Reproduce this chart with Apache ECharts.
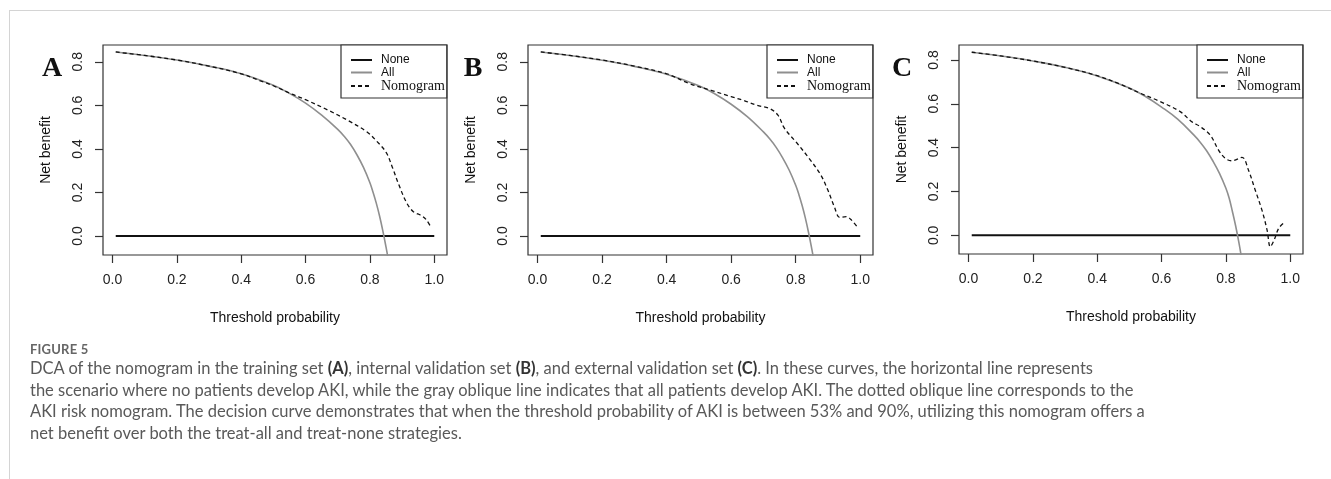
<!DOCTYPE html>
<html>
<head>
<meta charset="utf-8">
<script src="https://cdn.jsdelivr.net/npm/echarts@6/dist/echarts.min.js"></script>
<style>
  body { margin: 0; background: #fff; }
  #wrap { position: relative; width: 1331px; height: 479px; overflow: hidden; }
  #frame { position: absolute; left: 9px; top: 10px; right: 0; bottom: 0; border-top: 1px solid #d4d4d4; border-left: 1px solid #d4d4d4; }
  #chart { position: absolute; left: 0; top: 0; width: 1331px; height: 479px; }
  #caption { position: absolute; left: 30px; top: 340px; width: 1200px; font-family: Lato, "Open Sans", sans-serif; color: #595959; }
  #caption .fig { font-size: 13px; font-weight: bold; letter-spacing: 0.2px; line-height: 18px; color: #666; }
  #caption .txt { font-size: 16.5px; line-height: 21.5px; }
  #caption b { color: #333; }
</style>
</head>
<body>
<div id="wrap">
  <div id="frame"></div>
  <div id="chart"></div>
  <div id="caption">
    <div class="fig">FIGURE 5</div>
    <div class="txt">DCA of the nomogram in the training set <b>(A)</b>, internal validation set <b>(B)</b>, and external validation set <b>(C)</b>. In these curves, the horizontal line represents<br>the scenario where no patients develop AKI, while the gray oblique line indicates that all patients develop AKI. The dotted oblique line corresponds to the<br>AKI risk nomogram. The decision curve demonstrates that when the threshold probability of AKI is between 53% and 90%, utilizing this nomogram offers a<br>net benefit over both the treat-all and treat-none strategies.</div>
  </div>
</div>
<script>
// tick labels
const xTicks = [0, 0.2, 0.4, 0.6, 0.8, 1.0]
const yTicks = [0, 0.2, 0.4, 0.6, 0.8]
const panelLetters = ['A', 'B', 'C']

// treat none
const noneX = [0.01, 1.0]
const noneY = [0, 0]

// treat all, per panel
const allAX = [0.01, 0.1, 0.2, 0.3, 0.4, 0.5, 0.55, 0.6, 0.65, 0.7, 0.72, 0.74, 0.76, 0.78, 0.8, 0.81, 0.82, 0.83, 0.84, 0.85, 0.86]
const allAY = [0.845, 0.829, 0.808, 0.780, 0.745, 0.692, 0.655, 0.610, 0.555, 0.490, 0.458, 0.420, 0.372, 0.315, 0.245, 0.200, 0.150, 0.092, 0.025, -0.05, -0.13]
const allBX = [0.01, 0.1, 0.2, 0.3, 0.4, 0.5, 0.55, 0.6, 0.65, 0.7, 0.72, 0.74, 0.76, 0.78, 0.8, 0.81, 0.82, 0.83, 0.84, 0.85, 0.86]
const allBY = [0.845, 0.829, 0.807, 0.779, 0.743, 0.690, 0.652, 0.605, 0.548, 0.478, 0.445, 0.406, 0.358, 0.302, 0.233, 0.190, 0.140, 0.082, 0.015, -0.06, -0.14]
const allCX = [0.01, 0.1, 0.2, 0.3, 0.4, 0.5, 0.55, 0.6, 0.65, 0.7, 0.72, 0.74, 0.76, 0.78, 0.8, 0.81, 0.82, 0.83, 0.84, 0.85]
const allCY = [0.835, 0.818, 0.795, 0.766, 0.727, 0.672, 0.633, 0.585, 0.530, 0.458, 0.425, 0.386, 0.338, 0.283, 0.215, 0.170, 0.110, 0.045, -0.03, -0.115]

// nomogram, per panel
const nomoAX = [0.01, 0.1, 0.2, 0.3, 0.4, 0.46, 0.5, 0.56, 0.6, 0.67, 0.73, 0.79, 0.82, 0.85, 0.87, 0.89, 0.915, 0.935, 0.96, 0.975, 0.99]
const nomoAY = [0.845, 0.829, 0.808, 0.780, 0.745, 0.712, 0.690, 0.650, 0.626, 0.578, 0.532, 0.479, 0.437, 0.385, 0.315, 0.235, 0.150, 0.112, 0.094, 0.075, 0.040]
const nomoBX = [0.01, 0.1, 0.2, 0.3, 0.4, 0.47, 0.54, 0.6, 0.64, 0.68, 0.72, 0.745, 0.765, 0.805, 0.845, 0.878, 0.9, 0.92, 0.936, 0.957, 0.973, 0.994]
const nomoBY = [0.845, 0.829, 0.808, 0.780, 0.745, 0.700, 0.668, 0.640, 0.622, 0.600, 0.585, 0.555, 0.495, 0.425, 0.350, 0.280, 0.210, 0.134, 0.086, 0.089, 0.073, 0.035]
const nomoCX = [0.01, 0.1, 0.2, 0.3, 0.4, 0.47, 0.534, 0.596, 0.658, 0.694, 0.72, 0.751, 0.777, 0.798, 0.819, 0.85, 0.87, 0.891, 0.912, 0.928, 0.938, 0.95, 0.964, 0.981]
const nomoCY = [0.835, 0.818, 0.795, 0.766, 0.728, 0.690, 0.648, 0.610, 0.564, 0.518, 0.496, 0.458, 0.389, 0.351, 0.340, 0.356, 0.298, 0.207, 0.115, 0.024, -0.052, -0.021, 0.032, 0.058]

const pairs = (xs, ys) => xs.map((x, i) => [x, ys[i]])

const panels = [
  { left: 103, top: 45, width: 344, height: 210, ymin: -0.087, ymax: 0.877, letterX: 52, all: pairs(allAX, allAY), nomo: pairs(nomoAX, nomoAY) },
  { left: 528, top: 45, width: 345, height: 210, ymin: -0.087, ymax: 0.877, letterX: 473, all: pairs(allBX, allBY), nomo: pairs(nomoBX, nomoBY) },
  { left: 959, top: 45, width: 344, height: 209, ymin: -0.085, ymax: 0.868, letterX: 902, all: pairs(allCX, allCY), nomo: pairs(nomoCX, nomoCY) }
]

const axisFont = 'Liberation Sans, Arial, sans-serif'
const grid = []
const xAxis = []
const yAxis = []
const series = []
const legend = []
const graphic = []

panels.forEach((p, i) => {
  grid.push({ left: p.left, top: p.top, width: p.width, height: p.height, show: true, borderColor: '#333', borderWidth: 1.2, backgroundColor: 'transparent' })
  xAxis.push({
    type: 'value', gridIndex: i, min: -0.0296, max: 1.0396,
    name: 'Threshold probability', nameLocation: 'middle', nameGap: 56,
    nameTextStyle: { fontFamily: axisFont, fontSize: 14, color: '#111' },
    axisLine: { show: false, onZero: false },
    splitLine: { show: false },
    axisTick: { show: true, length: 8, customValues: xTicks, lineStyle: { color: '#333', width: 1.2 } },
    axisLabel: { customValues: xTicks, margin: 18, fontFamily: axisFont, fontSize: 14, color: '#222', formatter: v => v.toFixed(1) }
  })
  yAxis.push({
    type: 'value', gridIndex: i, min: p.ymin, max: p.ymax,
    name: 'Net benefit', nameLocation: 'middle', nameGap: 50, nameRotate: 90,
    nameTextStyle: { fontFamily: axisFont, fontSize: 14, color: '#111' },
    axisLine: { show: false, onZero: false },
    splitLine: { show: false },
    axisTick: { show: true, length: 8, customValues: yTicks, lineStyle: { color: '#333', width: 1.2 } },
    axisLabel: { customValues: yTicks, rotate: 90, margin: 18, fontFamily: axisFont, fontSize: 14, color: '#222', formatter: v => v.toFixed(1) }
  })
  series.push({
    name: 'None', type: 'line', xAxisIndex: i, yAxisIndex: i, symbol: 'none',
    lineStyle: { color: '#111', width: 2 }, itemStyle: { color: '#111' },
    data: pairs(noneX, noneY)
  })
  series.push({
    name: 'All', type: 'line', xAxisIndex: i, yAxisIndex: i, symbol: 'none', smooth: 0.4, clip: true,
    lineStyle: { color: '#8f8f8f', width: 1.6 }, itemStyle: { color: '#8f8f8f' },
    data: p.all
  })
  series.push({
    name: 'Nomogram', type: 'line', xAxisIndex: i, yAxisIndex: i, symbol: 'none', smooth: 0.35, clip: true,
    lineStyle: { color: '#111', width: 1.3, type: [4, 3] }, itemStyle: { color: '#111' },
    data: p.nomo
  })
  legend.push({
    orient: 'vertical', left: p.left + p.width - 106, top: p.top, width: 106,
    padding: [9, 2, 5, 9], itemGap: 0.5, itemWidth: 21, itemHeight: 13, align: 'left',
    borderColor: '#333', borderWidth: 1.2, backgroundColor: '#fff',
    selectedMode: false,
    itemStyle: { opacity: 0, borderWidth: 0 },
    data: [
      { name: 'None', textStyle: { fontFamily: axisFont, fontSize: 12, color: '#111', padding: [0, 0, 0, 4] } },
      { name: 'All', textStyle: { fontFamily: axisFont, fontSize: 12, color: '#111', padding: [0, 0, 0, 4] } },
      { name: 'Nomogram', textStyle: { fontFamily: 'Liberation Serif, Times New Roman, serif', fontSize: 14, color: '#111', padding: [0, 0, 0, 4] } }
    ]
  })
  graphic.push({
    type: 'text', x: p.letterX, y: 69,
    style: { text: panelLetters[i], font: 'bold 28px "Liberation Serif", "Times New Roman", serif', fill: '#111', align: 'center', verticalAlign: 'middle' }
  })
})

const chart = echarts.init(document.getElementById('chart'), null, { renderer: 'canvas' })
chart.setOption({
  animation: false,
  backgroundColor: 'transparent',
  grid: grid,
  xAxis: xAxis,
  yAxis: yAxis,
  legend: legend,
  graphic: graphic,
  series: series
})
</script>
</body>
</html>
